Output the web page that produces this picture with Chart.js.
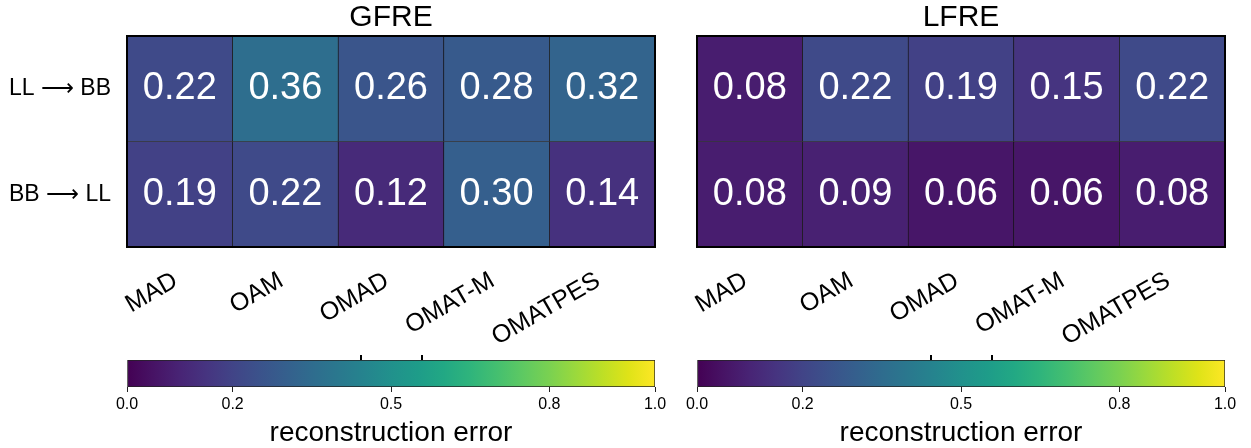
<!DOCTYPE html>
<html><head><meta charset="utf-8">
<script src="https://cdn.jsdelivr.net/npm/chart.js@4"></script>
<style>
@font-face{font-family:"ArrowFix";src:local("DejaVu Sans");unicode-range:U+2190-21FF,U+27F0-27FF;}
body{margin:0;background:#fff;width:1251px;height:448px;overflow:hidden;position:relative;}
canvas{position:absolute;}
</style></head><body>
<canvas id="hmL" width="680" height="350" style="left:0;top:0"></canvas>
<canvas id="hmR" width="571" height="350" style="left:680px;top:0"></canvas>
<canvas id="cbL" width="680" height="110" style="left:0;top:340px"></canvas>
<canvas id="cbR" width="571" height="110" style="left:680px;top:340px"></canvas>
<script>
const methods = ['MAD', 'OAM', 'OMAD', 'OMAT-M', 'OMATPES'];
const directions = ['LL ⟶ BB', 'BB ⟶ LL'];
const gfreLLtoBB = [0.22, 0.36, 0.26, 0.28, 0.32];
const gfreBBtoLL = [0.19, 0.22, 0.12, 0.30, 0.14];
const lfreLLtoBB = [0.08, 0.22, 0.19, 0.15, 0.22];
const lfreBBtoLL = [0.08, 0.09, 0.06, 0.06, 0.08];
const colorbarTicks = [0, 0.2, 0.5, 0.8, 1.0];
const colorbarTopMarks = [0.443, 0.559];
const rowCenters = [0.5, 1.5];

const FONT = '"Liberation Sans", Arial, sans-serif';
const ROWFONT = '"ArrowFix", "Liberation Sans", Arial, "DejaVu Sans", sans-serif';
const viridisStops = ['#440154','#471365','#482475','#463480','#414487','#3b528b','#355f8d','#2f6c8e','#2a788e','#25848e','#21918c','#1e9c89','#22a884','#2fb47c','#44bf70','#5ec962','#7ad151','#9bd93c','#bddf26','#dfe318','#fde725'];

function hexToRgb(h){ return [parseInt(h.substr(1,2),16), parseInt(h.substr(3,2),16), parseInt(h.substr(5,2),16)]; }
function viridis(v){
  const n = viridisStops.length - 1;
  const t = Math.max(0, Math.min(1, v)) * n;
  const i = Math.min(n - 1, Math.floor(t));
  const f = t - i;
  const a = hexToRgb(viridisStops[i]), b = hexToRgb(viridisStops[i + 1]);
  const c = a.map((x, k) => Math.round(x + (b[k] - x) * f));
  return 'rgb(' + c.join(',') + ')';
}

function heatmap(id, title, rows, showY, padLeft, padRight){
  const cellText = {
    id: 'cellText',
    afterDatasetsDraw(chart){
      const ctx = chart.ctx;
      ctx.save();
      ctx.fillStyle = '#fff';
      ctx.font = '38px ' + FONT;
      ctx.textAlign = 'center';
      ctx.textBaseline = 'middle';
      chart.data.datasets.forEach((ds, di) => {
        chart.getDatasetMeta(di).data.forEach((el, i) => {
          ctx.fillText(rows[di][i].toFixed(2), el.x, (el.y + el.base) / 2);
        });
      });
      const a = chart.chartArea;
      ctx.strokeStyle = '#000';
      ctx.lineWidth = 2;
      ctx.strokeRect(a.left, a.top, a.right - a.left, a.bottom - a.top);
      ctx.restore();
    }
  };
  new Chart(document.getElementById(id), {
    type: 'bar',
    data: {
      labels: methods,
      datasets: rows.map((vals, r) => ({
        data: vals.map(() => [r, r + 1]),
        backgroundColor: vals.map(viridis),
        borderColor: '#111',
        borderWidth: 0.7,
        borderSkipped: false,
        grouped: false,
        barPercentage: 1,
        categoryPercentage: 1
      }))
    },
    options: {
      responsive: false, animation: false, events: [],
      layout: { padding: { left: padLeft, right: padRight, top: 0, bottom: 0 } },
      plugins: { legend: { display: false }, tooltip: { enabled: false } },
      scales: {
        x: {
          type: 'category', offset: true,
          grid: { display: false, drawTicks: false }, border: { display: false },
          ticks: { color: '#000', font: { size: 25, family: FONT }, minRotation: 30, maxRotation: 30, autoSkip: false, padding: 19, labelOffset: -4 },
          afterFit(s){ s.height = 103; s.paddingLeft = 0; s.paddingRight = 0; }
        },
        xTop: {
          type: 'category', position: 'top', offset: true,
          grid: { display: false, drawTicks: false }, border: { display: false },
          ticks: { display: false },
          title: { display: true, text: title, color: '#000', font: { size: 30, family: FONT }, padding: { top: 0, bottom: 0 } },
          afterFit(s){ s.height = 36; s.paddingLeft = 0; s.paddingRight = 0; }
        },
        y: {
          type: 'linear', min: 0, max: 2, reverse: true, display: showY,
          grid: { display: false, drawTicks: false }, border: { display: false },
          afterBuildTicks(s){ s.ticks = rowCenters.map(v => ({ value: v })); },
          ticks: { color: '#000', font: { size: 23, family: ROWFONT }, padding: 16, callback: (v, i) => directions[i] },
          afterFit(s){ if (showY) { s.width = 127; } s.paddingTop = 0; s.paddingBottom = 0; }
        }
      }
    },
    plugins: [cellText]
  });
}

function colorbar(id, padLeft, padRight){
  new Chart(document.getElementById(id), {
    type: 'bar',
    data: {
      labels: ['cb'],
      datasets: [{
        data: [[0, 1]],
        backgroundColor: (ctx) => {
          const a = ctx.chart.chartArea;
          if (!a) return viridisStops[0];
          const g = ctx.chart.ctx.createLinearGradient(a.left, 0, a.right, 0);
          viridisStops.forEach((c, i) => g.addColorStop(i / (viridisStops.length - 1), c));
          return g;
        },
        borderColor: '#222', borderWidth: 1, borderSkipped: false,
        barPercentage: 1, categoryPercentage: 1
      }]
    },
    options: {
      indexAxis: 'y', responsive: false, animation: false, events: [],
      layout: { padding: { left: padLeft, right: padRight, top: 0, bottom: 0 } },
      plugins: { legend: { display: false }, tooltip: { enabled: false } },
      scales: {
        y: { display: false },
        x: {
          type: 'linear', min: 0, max: 1,
          grid: { drawOnChartArea: false, tickLength: 5, color: '#222', lineWidth: 1 }, border: { display: false },
          afterBuildTicks(s){ s.ticks = colorbarTicks.map(v => ({ value: v })); },
          ticks: { color: '#000', font: { size: 16, family: FONT }, padding: 3, maxRotation: 0, autoSkip: false, callback: v => v.toFixed(1) },
          title: { display: true, text: 'reconstruction error', color: '#000', font: { size: 28, family: FONT }, padding: { top: 0, bottom: 0 } },
          afterFit(s){ s.height = 63; s.paddingLeft = 0; s.paddingRight = 0; }
        },
        x2: {
          type: 'linear', position: 'top', min: 0, max: 1,
          grid: { drawOnChartArea: false, tickLength: 5, color: '#000', lineWidth: 2 }, border: { display: false },
          afterBuildTicks(s){ s.ticks = colorbarTopMarks.map(v => ({ value: v })); },
          ticks: { display: false },
          afterFit(s){ s.height = 20; s.paddingLeft = 0; s.paddingRight = 0; }
        }
      }
    }
  });
}

function drawAll(){
  heatmap('hmL', 'GFRE', [gfreLLtoBB, gfreBBtoLL], true, 0, 25);
  heatmap('hmR', 'LFRE', [lfreLLtoBB, lfreBBtoLL], false, 17, 26);
  colorbar('cbL', 127, 25);
  colorbar('cbR', 17, 26);
}
let drawn = false;
function once(){ if (!drawn) { drawn = true; drawAll(); } }
try {
  document.fonts.load('23px "ArrowFix"', '⟶').then(once, once);
  setTimeout(once, 1500);
} catch (e) { once(); }
</script>
</body></html>
